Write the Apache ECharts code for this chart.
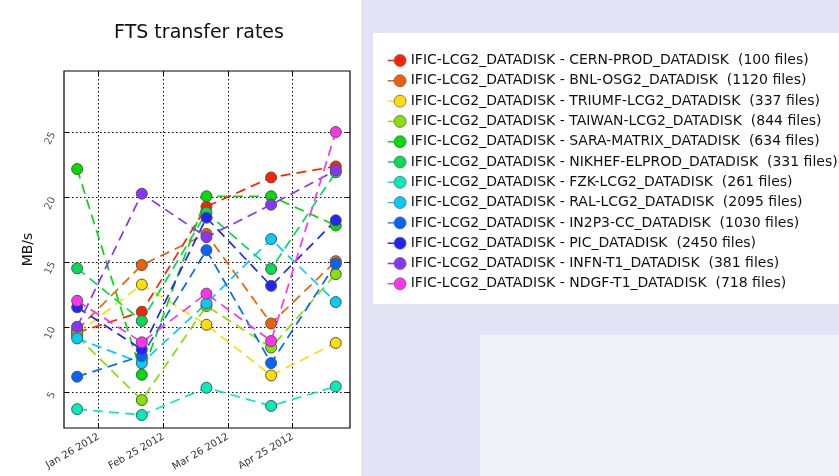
<!DOCTYPE html>
<html><head><meta charset="utf-8">
<script src="https://cdn.jsdelivr.net/npm/echarts@6/dist/echarts.min.js"></script>
<style>html,body{margin:0;padding:0;background:#fff}#c{width:839px;height:476px}</style>
</head><body><div id="c"></div>
<script>
// ---- data ----
const dates = ['2012-01-16', '2012-02-15', '2012-03-16', '2012-04-15', '2012-05-15'];
const tickDates = ['2012-01-26', '2012-02-25', '2012-03-26', '2012-04-25'];
const tickLabels = ['Jan 26 2012', 'Feb 25 2012', 'Mar 26 2012', 'Apr 25 2012'];
const yTicks = [5, 10, 15, 20, 25];
const seriesNames = [
  'IFIC-LCG2_DATADISK - CERN-PROD_DATADISK  (100 files)',
  'IFIC-LCG2_DATADISK - BNL-OSG2_DATADISK  (1120 files)',
  'IFIC-LCG2_DATADISK - TRIUMF-LCG2_DATADISK  (337 files)',
  'IFIC-LCG2_DATADISK - TAIWAN-LCG2_DATADISK  (844 files)',
  'IFIC-LCG2_DATADISK - SARA-MATRIX_DATADISK  (634 files)',
  'IFIC-LCG2_DATADISK - NIKHEF-ELPROD_DATADISK  (331 files)',
  'IFIC-LCG2_DATADISK - FZK-LCG2_DATADISK  (261 files)',
  'IFIC-LCG2_DATADISK - RAL-LCG2_DATADISK  (2095 files)',
  'IFIC-LCG2_DATADISK - IN2P3-CC_DATADISK  (1030 files)',
  'IFIC-LCG2_DATADISK - PIC_DATADISK  (2450 files)',
  'IFIC-LCG2_DATADISK - INFN-T1_DATADISK  (381 files)',
  'IFIC-LCG2_DATADISK - NDGF-T1_DATADISK  (718 files)'
];
const seriesColors = ['#ff2200', '#f06000', '#ffdd00', '#88e000', '#00dd00', '#00dd55',
  '#00eebb', '#00ccff', '#0066ff', '#2222ff', '#8833ff', '#ff33ee'];
const cern   = [9.6, 11.2, 19.3, 21.55, 22.4];
const bnl    = [9.8, 14.8, 17.2, 10.3, 15.1];
const triumf = [9.5, 13.3, 10.2, 6.3, 8.8];
const taiwan = [9.3, 4.4, 11.65, 8.45, 14.1];
const sara   = [22.2, 6.35, 20.1, 20.1, 17.85];
const nikhef = [14.55, 10.5, 18.85, 14.5, 21.95];
const fzk    = [3.7, 3.25, 5.35, 3.95, 5.45];
const ral    = [9.15, 7.25, 11.85, 16.8, 11.95];
const in2p3  = [6.2, 7.8, 15.95, 7.25, 14.9];
const pic    = [11.55, 8.3, 18.45, 13.2, 18.25];
const infn   = [10.05, 20.3, 16.95, 19.45, 22.1];
const ndgf   = [12.05, 8.85, 12.6, 8.95, 25.05];
const seriesValues = [cern, bnl, triumf, taiwan, sara, nikhef, fzk, ral, in2p3, pic, infn, ndgf];

// day number within 2012 (Jan 1 = 0)
function dayOf(s) {
  const p = s.split('-').map(Number);
  return (Date.UTC(p[0], p[1] - 1, p[2]) - Date.UTC(2012, 0, 1)) / 86400000;
}
const xs = dates.map(dayOf);
const xTicks = tickDates.map(dayOf);

const FONT = 'DejaVu Sans';
const chart = echarts.init(document.getElementById('c'), null, {renderer: 'canvas'});

const series = seriesNames.map((name, i) => ({
  name: name,
  type: 'line',
  data: xs.map((x, j) => [x, seriesValues[i][j]]),
  symbol: 'circle',
  symbolSize: 11,
  lineStyle: {color: seriesColors[i], width: 1.7, type: [10, 6]},
  itemStyle: {color: seriesColors[i], borderColor: '#555', borderWidth: 1},
  emphasis: {disabled: true},
  xAxisIndex: 0, yAxisIndex: 0
}));

const legendBase = {
  orient: 'vertical',
  left: 382.7, top: 48.5,
  itemWidth: 18, itemHeight: 12, itemGap: 6.3,
  data: seriesNames,
  selectedMode: false
};

const option = {
  animation: false,
  backgroundColor: '#ffffff',
  textStyle: {fontFamily: FONT},
  graphic: [
    {type: 'rect', z: -10, shape: {x: 361, y: 0, width: 480, height: 476}, style: {fill: '#e3e3f5'}},
    {type: 'rect', z: -9, shape: {x: 480, y: 335, width: 360, height: 141}, style: {fill: '#f1f1f9'}},
    {type: 'rect', z: -8, shape: {x: 373, y: 33, width: 480, height: 271}, style: {fill: '#ffffff'}}
  ],
  title: {
    text: 'FTS transfer rates',
    left: 194, top: 19, textAlign: 'center',
    textStyle: {fontFamily: FONT, fontSize: 19, fontWeight: 'normal', color: '#111'}
  },
  legend: [
    Object.assign({}, legendBase, {
      icon: 'path://M0,0 L0,0 Z M18,12 L18,12 Z M0,5.3 L8,5.3 L8,6.7 L0,6.7 Z',
      itemStyle: {borderWidth: 0},
      textStyle: {fontFamily: FONT, fontSize: 14, color: '#111'}
    }),
    Object.assign({}, legendBase, {
      icon: 'path://M0,0 L0,0 Z M18,12 L18,12 Z M6,6 A6,6 0 1,0 18,6 A6,6 0 1,0 6,6 Z',
      itemStyle: {borderColor: '#666', borderWidth: 0.8},
      textStyle: {fontFamily: FONT, fontSize: 14, color: 'rgba(0,0,0,0)'}
    })
  ],
  grid: {left: 64, top: 71, width: 286, height: 357, show: true, borderColor: '#000', borderWidth: 1.2, backgroundColor: '#fff'},
  xAxis: [{
    type: 'value', min: 8.9, max: 141.6,
    axisLine: {show: false},
    axisTick: {show: true, inside: true, length: 4, customValues: xTicks, lineStyle: {color: '#000'}},
    axisLabel: {
      customValues: xTicks, rotate: 30, margin: 8,
      fontFamily: FONT, fontSize: 10, color: '#333',
      formatter: v => tickLabels[xTicks.indexOf(v)] || ''
    },
    splitLine: {show: true, lineStyle: {color: '#000', width: 1, type: [1.5, 2.5]}}
  }, {
    type: 'value', min: 8.9, max: 141.6, position: 'top', gridIndex: 0,
    axisLine: {show: false},
    axisTick: {show: true, inside: true, length: 4, customValues: xTicks, lineStyle: {color: '#000'}},
    axisLabel: {show: false}, splitLine: {show: false}
  }],
  yAxis: [{
    type: 'value', min: 2.25, max: 29.75,
    name: 'MB/s', nameLocation: 'middle', nameGap: 29,
    nameTextStyle: {fontFamily: FONT, fontSize: 14, color: '#111'},
    axisLine: {show: false},
    axisTick: {show: true, inside: true, length: 4, customValues: yTicks, lineStyle: {color: '#000'}},
    axisLabel: {customValues: yTicks, rotate: 65, margin: 11, fontFamily: FONT, fontSize: 10, color: '#555'},
    splitLine: {show: true, lineStyle: {color: '#000', width: 1, type: [1.5, 2.5]}}
  }, {
    type: 'value', min: 2.25, max: 29.75, position: 'right',
    axisLine: {show: false},
    axisTick: {show: true, inside: true, length: 4, customValues: yTicks, lineStyle: {color: '#000'}},
    axisLabel: {show: false}, splitLine: {show: false}
  }],
  series: series
};
chart.setOption(option);
</script>
</body></html>
